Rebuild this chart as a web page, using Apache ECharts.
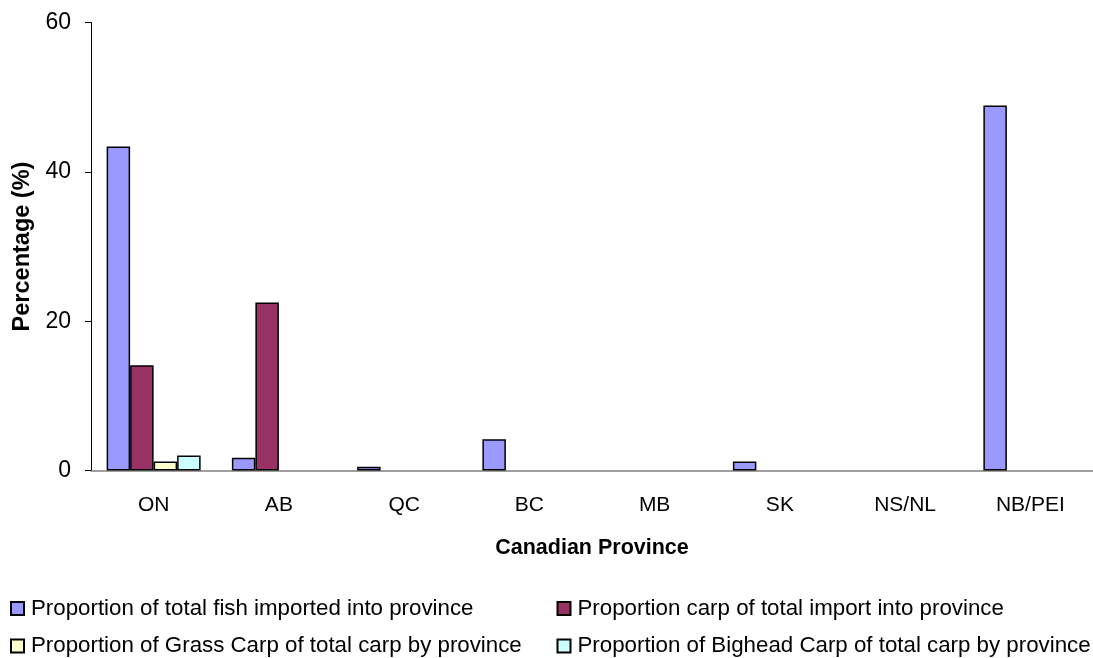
<!DOCTYPE html>
<html>
<head>
<meta charset="utf-8">
<title>Fish imports by Canadian province</title>
<script src="https://cdn.jsdelivr.net/npm/echarts@6/dist/echarts.min.js"></script>
<style>
  html, body { margin: 0; padding: 0; background: #ffffff; }
  #chart { width: 1093px; height: 658px; }
</style>
</head>
<body>
<div id="chart"></div>
<script>
// Provinces along the category axis
const provinces = ['ON', 'AB', 'QC', 'BC', 'MB', 'SK', 'NS/NL', 'NB/PEI'];

// Percentages per province
const fishImported   = [43.4, 1.7, 0.5, 4.2, 0, 1.2, 0, 48.9];
const carpOfImport   = [14.1, 22.5, 0, 0, 0, 0, 0, 0];
const grassOfCarp    = [1.2, 0, 0, 0, 0, 0, 0, 0];
const bigheadOfCarp  = [2.0, 0, 0, 0, 0, 0, 0, 0];

const seriesNames = [
  'Proportion of total fish imported into province',
  'Proportion carp of total import into province',
  'Proportion of Grass Carp of total carp by province',
  'Proportion of Bighead Carp of total carp by province'
];
const seriesColors = ['#9999FF', '#993366', '#FFFFCC', '#CCFFFF'];

// Percentage axis ticks
const yMin = 0, yMax = 60, yStep = 20;

const FONT = '"Liberation Sans", Arial, sans-serif';

// zero shares are left empty so no flat bar is drawn
const asBars = arr => arr.map(v => (v === 0 ? null : v));

const chart = echarts.init(document.getElementById('chart'), null, { renderer: 'canvas' });

const allData = [fishImported, carpOfImport, grassOfCarp, bigheadOfCarp];

// two-column legend below the plot: each column is its own vertical legend
function legendColumn(left, names) {
  return {
    orient: 'vertical',
    left: left,
    top: 597.5,
    height: 80,
    padding: 0,
    itemWidth: 13,
    itemHeight: 13,
    itemGap: 15.5,
    icon: 'rect',
    selectedMode: false,
    data: names,
    textStyle: {
      fontFamily: FONT,
      fontSize: 22.3,
      lineHeight: 22,
      color: '#000',
      padding: [0, 0, 0, 2]
    }
  };
}

chart.setOption({
  animation: false,
  backgroundColor: '#ffffff',
  grid: {
    left: 91,
    top: 22.5,
    width: 1008,
    height: 448,
    containLabel: false
  },
  legend: [
    legendColumn(10, [seriesNames[0], seriesNames[2]]),
    legendColumn(556.5, [seriesNames[1], seriesNames[3]])
  ],
  xAxis: {
    type: 'category',
    data: provinces,
    boundaryGap: true,
    name: 'Canadian Province',
    nameLocation: 'middle',
    nameGap: 67,
    nameTextStyle: { fontFamily: FONT, fontSize: 21.5, fontWeight: 'bold', color: '#000' },
    axisLine: { lineStyle: { color: '#808080', width: 1.5 } },
    axisTick: { alignWithLabel: false, length: 7, lineStyle: { color: '#808080', width: 1 } },
    axisLabel: { fontFamily: FONT, fontSize: 21, color: '#000', margin: 24 },
    splitLine: { show: false }
  },
  yAxis: {
    type: 'value',
    min: yMin,
    max: yMax,
    interval: yStep,
    name: 'Percentage (%)',
    nameLocation: 'middle',
    nameGap: 55,
    nameRotate: 90,
    nameTextStyle: { fontFamily: FONT, fontSize: 23.5, fontWeight: 'bold', color: '#000' },
    axisLine: { show: true, lineStyle: { color: '#000', width: 1 } },
    axisTick: { show: true, length: 6, lineStyle: { color: '#000', width: 1 } },
    axisLabel: { fontFamily: FONT, fontSize: 23, color: '#000', margin: 20 },
    splitLine: { show: false }
  },
  series: seriesNames.map((name, i) => ({
    name: name,
    type: 'bar',
    data: asBars(allData[i]),
    barWidth: 23.5,
    barGap: '0%',
    itemStyle: {
      color: seriesColors[i],
      borderColor: '#000',
      borderWidth: 1.5
    },
    emphasis: { disabled: true }
  }))
});
</script>
</body>
</html>
